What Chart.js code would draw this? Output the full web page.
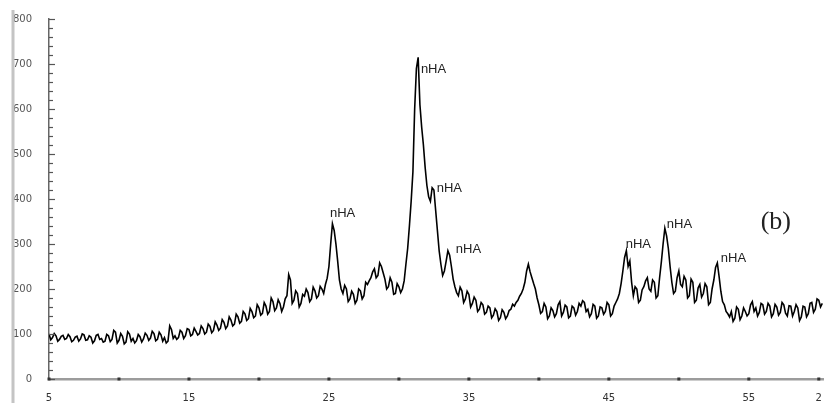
<!DOCTYPE html>
<html>
<head>
<meta charset="utf-8">
<script src="https://cdn.jsdelivr.net/npm/chart.js@4.4.1/dist/chart.umd.min.js"></script>
<style>
  html, body { margin: 0; padding: 0; background: #fff; }
  #wrap { width: 832px; height: 403px; position: relative; }
</style>
</head>
<body>
<div id="wrap"><canvas id="xrdChart" width="832" height="403"></canvas></div>
<script>
// XRD scan: intensity (counts) sampled every 0.125 deg 2-theta from 5 deg, one row per degree
const angleStart = 5;
const angleStep = 0.125;
const intensity = [
  100, 87, 92, 101, 96, 84, 88, 95,      // 5
  97, 88, 90, 99, 94, 83, 86, 93,        // 6
  95, 84, 89, 100, 98, 86, 87, 96,       // 7
  93, 80, 85, 97, 99, 88, 90, 82,        // 8
  84, 99, 96, 83, 88, 108, 104, 80,      // 9
  86, 101, 95, 78, 82, 105, 100, 84,     // 10
  90, 80, 85, 99, 94, 82, 89, 102,       // 11
  97, 86, 91, 106, 101, 85, 88, 104,     // 12
  98, 84, 92, 80, 84, 118, 110, 90,      // 13
  96, 88, 92, 108, 104, 90, 96, 112,     // 14
  110, 96, 99, 113, 106, 98, 101, 118,   // 15
  112, 100, 104, 122, 117, 103, 108, 127, // 16
  120, 108, 113, 132, 126, 112, 118, 138, // 17
  131, 118, 122, 144, 138, 124, 128, 150, // 18
  145, 130, 134, 157, 150, 136, 140, 165, // 19
  158, 142, 146, 170, 162, 144, 150, 180, // 20
  172, 152, 158, 176, 168, 150, 160, 178, // 21
  185, 232, 220, 168, 175, 196, 190, 160, // 22
  168, 188, 184, 200, 192, 172, 178, 204, // 23
  196, 180, 185, 206, 200, 190, 210, 224, // 24
  250, 300, 345, 330, 300, 262, 220, 200, // 25
  190, 208, 200, 172, 178, 195, 188, 168, // 26
  175, 200, 196, 178, 185, 215, 210, 218, // 27
  225, 238, 245, 225, 230, 258, 250, 236, // 28
  222, 200, 205, 225, 215, 188, 190, 212, // 29
  205, 192, 200, 218, 255, 290, 340, 395, // 30
  460, 600, 690, 715, 610, 560, 520, 470, // 31
  430, 405, 395, 425, 420, 375, 330, 285, // 32
  255, 230, 240, 262, 285, 275, 250, 222, // 33
  205, 192, 185, 204, 196, 170, 178, 195, // 34
  188, 160, 168, 182, 175, 150, 155, 170, // 35
  165, 144, 148, 162, 158, 136, 142, 156, // 36
  150, 130, 136, 154, 148, 134, 140, 152, // 37
  155, 166, 162, 170, 175, 184, 190, 200, // 38
  215, 240, 255, 238, 225, 212, 200, 180, // 39
  165, 146, 150, 168, 160, 134, 140, 158, // 40
  152, 138, 145, 165, 172, 140, 148, 164, // 41
  160, 136, 140, 162, 158, 142, 150, 168, // 42
  162, 174, 170, 150, 155, 138, 145, 166, // 43
  162, 135, 140, 160, 158, 144, 150, 170, // 44
  165, 140, 145, 162, 170, 178, 190, 212, // 45
  240, 270, 285, 250, 262, 215, 185, 205, // 46
  200, 170, 175, 198, 205, 218, 225, 200, // 47
  195, 220, 215, 180, 185, 225, 260, 300, // 48
  335, 318, 290, 250, 215, 190, 195, 225, // 49
  240, 210, 205, 228, 220, 180, 185, 222, // 50
  215, 170, 175, 202, 210, 182, 190, 212, // 51
  205, 165, 170, 200, 220, 248, 258, 228, // 52
  195, 172, 165, 150, 145, 138, 150, 128, // 53
  135, 160, 155, 132, 140, 158, 150, 140, // 54
  145, 165, 172, 150, 158, 140, 148, 168, // 55
  165, 144, 150, 168, 162, 138, 145, 166, // 56
  160, 142, 148, 170, 165, 146, 140, 163, // 57
  162, 140, 150, 165, 158, 130, 138, 162, // 58
  160, 138, 145, 168, 170, 148, 155, 178, // 59
  175, 160, 168                           // 60
];

const xTickValues = [5, 10, 15, 20, 25, 30, 35, 40, 45, 50, 55, 60];
const xTickLabels = ['5', '', '15', '', '25', '', '35', '', '45', '', '55', '2'];
const yTickValues = [0, 100, 200, 300, 400, 500, 600, 700, 800];

// phase markers: left edge of the text at (angle, level)
const peakAngles = [25.07, 31.57, 32.70, 34.07, 46.20, 49.14, 53.00];
const peakLevels = [369, 687, 424, 287, 300, 344, 267];
const peakText = 'nHA';
const panelTag = '(b)';
const panelAngle = 56.93;
const panelLevel = 349;

const points = intensity.map((v, i) => ({ x: angleStart + i * angleStep, y: v }));

const axisDecor = {
  id: 'axisDecor',
  afterDraw(chart) {
    const ctx = chart.ctx;
    const xs = chart.scales.x;
    const ys = chart.scales.y;
    const area = chart.chartArea;
    ctx.save();

    // frame edge on the far left
    ctx.strokeStyle = '#c4c4c4';
    ctx.lineWidth = 3;
    ctx.beginPath();
    ctx.moveTo(13, 10);
    ctx.lineTo(13, 403);
    ctx.stroke();

    // inward tick marks on the intensity axis, every 20 counts
    ctx.strokeStyle = '#555';
    ctx.lineWidth = 1.2;
    for (let v = 0; v <= 800; v += 20) {
      const y = Math.round(ys.getPixelForValue(v)) + 0.5;
      const len = v % 100 === 0 ? 6 : 4;
      ctx.beginPath();
      ctx.moveTo(area.left, y);
      ctx.lineTo(area.left + len, y);
      ctx.stroke();
    }

    // dots on the 2-theta axis
    ctx.fillStyle = '#333';
    xTickValues.forEach(v => {
      const x = xs.getPixelForValue(v);
      ctx.fillRect(x - 1.5, area.bottom - 1.5, 3, 3);
    });

    // peak markers
    ctx.fillStyle = '#222';
    ctx.font = '13px "Liberation Sans", Arial, sans-serif';
    ctx.textBaseline = 'middle';
    ctx.textAlign = 'left';
    peakAngles.forEach((a, i) => {
      ctx.fillText(peakText, xs.getPixelForValue(a), ys.getPixelForValue(peakLevels[i]));
    });

    ctx.font = '26px "Liberation Serif", "Times New Roman", serif';
    ctx.textAlign = 'center';
    ctx.fillText(panelTag, xs.getPixelForValue(panelAngle), ys.getPixelForValue(panelLevel));
    ctx.restore();
  }
};

const ctx = document.getElementById('xrdChart').getContext('2d');
const xrdChart = new Chart(ctx, {
  type: 'line',
  data: {
    datasets: [{
      label: 'XRD',
      data: points,
      borderColor: '#000',
      borderWidth: 1.6,
      pointRadius: 0,
      tension: 0,
      fill: false
    }]
  },
  options: {
    responsive: false,
    animation: false,
    parsing: false,
    layout: { padding: { top: 19, right: 9, left: 0, bottom: 0 } },
    plugins: { legend: { display: false }, tooltip: { enabled: false } },
    scales: {
      x: {
        type: 'linear',
        min: 5,
        max: 60.3,
        afterBuildTicks: s => { s.ticks = xTickValues.map(v => ({ value: v })); },
        afterFit: s => { s.height = 24; },
        grid: { display: false },
        border: { display: true, color: '#9c9c9c', width: 2.5 },
        ticks: {
          autoSkip: false,
          maxRotation: 0,
          padding: 5,
          color: '#333',
          font: { size: 10, family: '"DejaVu Sans", sans-serif' },
          callback: (v, i) => xTickLabels[i]
        }
      },
      y: {
        min: 0,
        max: 800,
        afterBuildTicks: s => { s.ticks = yTickValues.map(v => ({ value: v })); },
        afterFit: s => { s.width = 49; },
        grid: { display: false },
        border: { display: true, color: '#666', width: 1.5 },
        ticks: {
          padding: 9,
          color: '#555',
          font: { size: 10, family: '"DejaVu Sans", sans-serif' }
        }
      }
    }
  },
  plugins: [axisDecor]
});
</script>
</body>
</html>
